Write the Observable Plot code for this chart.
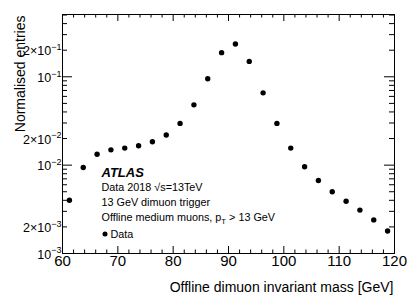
<!DOCTYPE html>
<html><head><meta charset="utf-8">
<script src="https://cdn.jsdelivr.net/npm/d3@7"></script>
<script src="https://cdn.jsdelivr.net/npm/@observablehq/plot@0.6"></script>
<style>
html,body{margin:0;padding:0;background:#fff;}
#chart{width:415px;height:298px;overflow:hidden;}
</style>
</head><body><div id="chart"></div>
<script>
// ---- data ----
const binCenters = [61.25, 63.75, 66.25, 68.75, 71.25, 73.75, 76.25, 78.75, 81.25, 83.75, 86.25, 88.75,
                    91.25, 93.75, 96.25, 98.75, 101.25, 103.75, 106.25, 108.75, 111.25, 113.75, 116.25, 118.75];
const entries = [0.0040, 0.0094, 0.0133, 0.0149, 0.0156, 0.0166, 0.0184, 0.0219, 0.0297, 0.0481, 0.0949, 0.1875,
                 0.2346, 0.1493, 0.0658, 0.0297, 0.0156, 0.0096, 0.0067, 0.0050, 0.0039, 0.0031, 0.0024, 0.0018];
const xMajorTicks = [60, 70, 80, 90, 100, 110, 120];
const xMinorTicks = [62, 64, 66, 68, 72, 74, 76, 78, 82, 84, 86, 88, 92, 94, 96, 98, 102, 104, 106, 108, 112, 114, 116, 118];
const yMajorTicks = [0.001, 0.01, 0.1];
const yMinorTicks = [0.002, 0.003, 0.004, 0.005, 0.006, 0.007, 0.008, 0.009,
                     0.02, 0.03, 0.04, 0.05, 0.06, 0.07, 0.08, 0.09,
                     0.2, 0.3, 0.4, 0.5];
const yLabelValues = [0.001, 0.002, 0.01, 0.02, 0.1, 0.2];
const yLabelTexts = ["10^{−3}", "2×10^{−3}", "10^{−2}", "2×10^{−2}", "10^{−1}", "2×10^{−1}"];
const xTitle = "Offline dimuon invariant mass [GeV]";
const yTitle = "Normalised entries";
const atlasLabel = "ATLAS";
const infoLines = ["Data 2018 √s=13TeV", "13 GeV dimuon trigger", "Offline medium muons, p_{T} > 13 GeV"];
const legendLabel = "Data";

// ---- layout ----
const W = 415, H = 298;
const mL = 62, mR = 21, mT = 14, mB = 45;
const FW = W - mL - mR, FH = H - mT - mB;
const font = "'Liberation Sans', Arial, Helvetica, sans-serif";
const narrow = "'Liberation Sans Narrow', 'Liberation Sans', Arial, sans-serif";
const infoBaselines = [190.5, 205.5, 220.5]; // px from top of page

const data = binCenters.map((m, i) => ({m, v: entries[i]}));

const chart = Plot.plot({
  width: W, height: H,
  marginLeft: mL, marginRight: mR, marginTop: mT, marginBottom: mB,
  style: {fontFamily: font, background: "#fff", overflow: "visible"},
  x: {type: "linear", domain: [60, 120], axis: null},
  y: {type: "log", domain: [0.001, 0.507], axis: null},
  marks: [
    Plot.frame({stroke: "black", strokeWidth: 1}),
    // bottom / top ticks
    Plot.tickX(xMajorTicks, {x: d => d, insetTop: FH - 7, stroke: "black"}),
    Plot.tickX(xMinorTicks, {x: d => d, insetTop: FH - 3.5, stroke: "black"}),
    Plot.tickX(xMajorTicks, {x: d => d, insetBottom: FH - 7, stroke: "black"}),
    Plot.tickX(xMinorTicks, {x: d => d, insetBottom: FH - 3.5, stroke: "black"}),
    // left / right ticks
    Plot.tickY(yMajorTicks, {y: d => d, insetRight: FW - 10, stroke: "black"}),
    Plot.tickY(yMinorTicks, {y: d => d, insetRight: FW - 5, stroke: "black"}),
    Plot.tickY(yMajorTicks, {y: d => d, insetLeft: FW - 10, stroke: "black"}),
    Plot.tickY(yMinorTicks, {y: d => d, insetLeft: FW - 5, stroke: "black"}),
    // tick labels
    Plot.text(xMajorTicks, {x: d => d, frameAnchor: "bottom", lineAnchor: "top", dy: 2,
      text: d => String(d), fontSize: 15, fill: "black"}),
    Plot.text(yLabelValues, {y: d => d, frameAnchor: "left", textAnchor: "end", lineAnchor: "middle", dx: -1, dy: 1,
      text: (d, i) => yLabelTexts[i], fontSize: 12.5, fill: "black"}),
    // axis titles
    Plot.text([xTitle], {frameAnchor: "bottom-right", textAnchor: "end", lineAnchor: "bottom", dy: 38, dx: -1,
      text: d => d, fontSize: 14, fill: "black"}),
    Plot.text([yTitle], {frameAnchor: "top-left", textAnchor: "end", lineAnchor: "bottom", rotate: -90, dx: -38, dy: 1,
      text: d => d, fontSize: 14, fill: "black"}),
    // data
    Plot.dot(data, {x: "m", y: "v", r: 2.7, fill: "black", stroke: "none"}),
    // annotations
    Plot.text([atlasLabel], {frameAnchor: "top-left", textAnchor: "start", lineAnchor: "bottom", dx: 39, dy: 176.5 - mT,
      text: d => d, fontSize: 13, fontWeight: "bold", fontStyle: "italic", fill: "black", fontFamily: narrow}),
    ...infoLines.map((line, i) => Plot.text([line], {frameAnchor: "top-left", textAnchor: "start", lineAnchor: "bottom",
      dx: 39, dy: infoBaselines[i] - mT,
      text: d => d, fontSize: 10.8, fill: "black", fontFamily: narrow})),
    Plot.dot([legendLabel], {frameAnchor: "top-left", dx: 42.5, dy: 233.5 - mT, r: 2.5, fill: "black", stroke: "none"}),
    Plot.text([legendLabel], {frameAnchor: "top-left", textAnchor: "start", lineAnchor: "bottom", dx: 48, dy: 237 - mT,
      text: d => d, fontSize: 10.8, fill: "black", fontFamily: narrow})
  ]
});
document.getElementById("chart").appendChild(chart);

// super/subscripts: turn ^{..} and _{..} into tspans (text stays real text)
chart.querySelectorAll("text").forEach(t => {
  const s = t.textContent;
  if (!/[\^_]\{/.test(s)) return;
  const fs = parseFloat(getComputedStyle(t).fontSize) || 10;
  const parts = s.split(/([\^_]\{[^}]*\})/).filter(p => p.length);
  t.textContent = "";
  let shift = 0;
  parts.forEach(p => {
    const ts = document.createElementNS("http://www.w3.org/2000/svg", "tspan");
    let target = 0, txt = p, small = false;
    if (p.startsWith("^{")) { target = -0.42 * fs; txt = p.slice(2, -1); small = true; }
    else if (p.startsWith("_{")) { target = 0.3 * fs; txt = p.slice(2, -1); small = true; }
    ts.setAttribute("dy", String(target - shift));
    shift = target;
    if (small) ts.setAttribute("font-size", String(fs * 0.72));
    ts.textContent = txt;
    t.appendChild(ts);
  });
});
</script>
</body></html>
